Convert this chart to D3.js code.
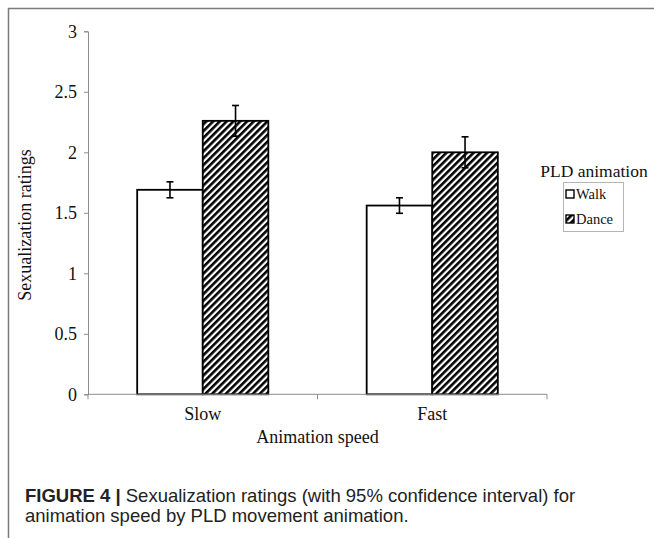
<!DOCTYPE html>
<html>
<head>
<meta charset="utf-8">
<script src="https://cdn.jsdelivr.net/npm/d3@7"></script>
<style>
  body { margin: 0; background: #fff; }
  svg { display: block; }
</style>
</head>
<body>
<svg id="chart"></svg>
<script>
const speeds = ['Slow', 'Fast']
const animations = ['Walk', 'Dance']
const walkMeans = [1.69, 1.56]
const danceMeans = [2.26, 2.0]
const walkCI = [0.066, 0.064]
const danceCI = [0.127, 0.128]
const yTicks = [0, 0.5, 1, 1.5, 2, 2.5, 3]

const width = 654
const height = 538
const plot = { left: 88, right: 547, top: 31.3, bottom: 394.3 }
const serif = '"Liberation Serif", "Times New Roman", serif'

const rows = []
speeds.forEach((s, i) => {
    rows.push({ speed: s, anim: 'Walk', mean: walkMeans[i], ci: walkCI[i] })
    rows.push({ speed: s, anim: 'Dance', mean: danceMeans[i], ci: danceCI[i] })
})

const svg = d3.select('#chart')
    .attr('width', width)
    .attr('height', height)

const defs = svg.append('defs')
const pat = defs.append('pattern')
    .attr('id', 'hatch')
    .attr('patternUnits', 'userSpaceOnUse')
    .attr('width', 4.8)
    .attr('height', 4.8)
    .attr('patternTransform', 'rotate(45)')
pat.append('rect')
    .attr('width', 4.8).attr('height', 4.8).attr('fill', '#fff')
pat.append('rect')
    .attr('width', 2.6).attr('height', 4.8).attr('fill', '#000')

// frame of the figure
svg.append('line')
    .attr('x1', 8).attr('x2', width).attr('y1', 8.5).attr('y2', 8.5)
    .attr('stroke', '#7a7a7a').attr('stroke-width', 1.5)
svg.append('line')
    .attr('x1', 8.5).attr('x2', 8.5).attr('y1', 8).attr('y2', height)
    .attr('stroke', '#7a7a7a').attr('stroke-width', 1.5)

const xScale = d3.scaleBand()
    .domain(speeds)
    .range([plot.left, plot.right])
    .padding(0)

const xInner = d3.scaleBand()
    .domain(animations)
    .range([0, xScale.bandwidth()])
    .paddingInner(0)
    .paddingOuter(0.75)

const yScale = d3.scaleLinear()
    .domain([0, 3])
    .range([plot.bottom, plot.top])

// y axis
const gy = svg.append('g')
    .attr('transform', `translate(${plot.left},0)`)
    .call(d3.axisLeft(yScale).tickValues(yTicks).tickSize(4).tickPadding(7).tickFormat(d3.format('')))
gy.selectAll('path, line').attr('stroke', '#8c8c8c')
gy.selectAll('text')
    .attr('font-family', serif)
    .attr('font-size', 18)
    .attr('fill', '#111')

// bars
const g = svg.append('g')
g.selectAll('.bar')
    .data(rows)
    .enter()
    .append('rect')
    .classed('bar', true)
    .attr('x', d => xScale(d.speed) + xInner(d.anim))
    .attr('y', d => yScale(d.mean))
    .attr('width', xInner.bandwidth())
    .attr('height', d => yScale(0) - yScale(d.mean))
    .attr('fill', d => d.anim === 'Walk' ? '#fff' : 'url(#hatch)')
    .attr('stroke', '#000')
    .attr('stroke-width', 1.8)

// x axis
const gx = svg.append('g')
    .attr('transform', `translate(0,${plot.bottom})`)
    .call(d3.axisBottom(xScale).tickSize(0).tickPadding(13))
gx.select('path').attr('stroke', '#8c8c8c').attr('d', `M${plot.left},0H${plot.right}`)
gx.selectAll('text')
    .attr('font-family', serif)
    .attr('font-size', 18)
    .attr('fill', '#111')
// boundary ticks between categories
gx.selectAll('.sep')
    .data([plot.left, xScale('Fast'), plot.right])
    .enter()
    .append('line')
    .attr('x1', d => d).attr('x2', d => d)
    .attr('y1', 0).attr('y2', 5)
    .attr('stroke', '#8c8c8c')

// error bars
const cap = 3.5
const eb = g.selectAll('.err')
    .data(rows)
    .enter()
    .append('g')
    .attr('transform', d => `translate(${xScale(d.speed) + xInner(d.anim) + xInner.bandwidth() / 2},0)`)
eb.append('line')
    .attr('y1', d => yScale(d.mean + d.ci)).attr('y2', d => yScale(d.mean - d.ci))
    .attr('stroke', '#000').attr('stroke-width', 1.6)
eb.append('line')
    .attr('x1', -cap).attr('x2', cap)
    .attr('y1', d => yScale(d.mean + d.ci)).attr('y2', d => yScale(d.mean + d.ci))
    .attr('stroke', '#000').attr('stroke-width', 1.6)
eb.append('line')
    .attr('x1', -cap).attr('x2', cap)
    .attr('y1', d => yScale(d.mean - d.ci)).attr('y2', d => yScale(d.mean - d.ci))
    .attr('stroke', '#000').attr('stroke-width', 1.6)

// axis titles
svg.append('text')
    .attr('x', (plot.left + plot.right) / 2)
    .attr('y', 443)
    .attr('text-anchor', 'middle')
    .attr('font-family', serif)
    .attr('font-size', 18)
    .attr('fill', '#111')
    .text('Animation speed')

svg.append('text')
    .attr('transform', 'translate(31,225) rotate(-90)')
    .attr('text-anchor', 'middle')
    .attr('font-family', serif)
    .attr('font-size', 18)
    .attr('fill', '#111')
    .text('Sexualization ratings')

// legend
svg.append('text')
    .attr('x', 594)
    .attr('y', 177)
    .attr('text-anchor', 'middle')
    .attr('font-family', serif)
    .attr('font-size', 17.5)
    .attr('fill', '#111')
    .text('PLD animation')

svg.append('rect')
    .attr('x', 563.5).attr('y', 182.5)
    .attr('width', 60).attr('height', 49)
    .attr('fill', 'none').attr('stroke', '#b5b5b5')

const leg = svg.selectAll('.leg')
    .data(animations)
    .enter()
    .append('g')
    .attr('transform', (d, i) => `translate(566,${194 + i * 25})`)
leg.append('rect')
    .attr('x', 0).attr('y', -4).attr('width', 8).attr('height', 8)
    .attr('fill', d => d === 'Walk' ? '#fff' : 'url(#hatch)')
    .attr('stroke', '#000').attr('stroke-width', 1.4)
leg.append('text')
    .attr('x', 10).attr('y', 5)
    .attr('font-family', serif)
    .attr('font-size', 14.5)
    .attr('fill', '#111')
    .text(d => d)

// caption
const cap1 = svg.append('text')
    .attr('x', 25).attr('y', 502)
    .attr('font-family', '"Liberation Sans", Arial, sans-serif')
    .attr('font-size', 18.5)
    .attr('fill', '#222')
cap1.append('tspan').attr('font-weight', 'bold').text('FIGURE 4 | ')
cap1.append('tspan').text('Sexualization ratings (with 95% confidence interval) for')
svg.append('text')
    .attr('x', 25).attr('y', 522)
    .attr('font-family', '"Liberation Sans", Arial, sans-serif')
    .attr('font-size', 18.5)
    .attr('fill', '#222')
    .text('animation speed by PLD movement animation.')
</script>
</body>
</html>
